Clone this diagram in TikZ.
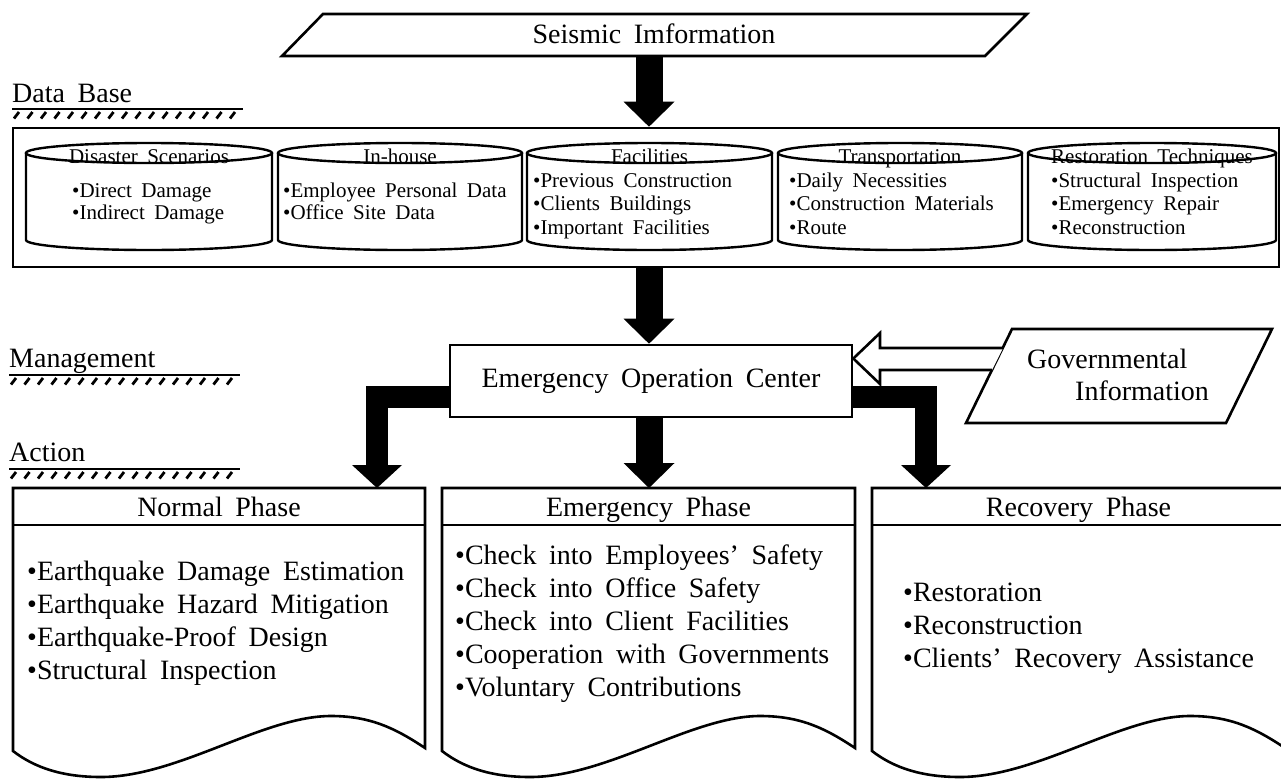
\documentclass[tikz,border=0pt]{standalone}
\usepackage{fontspec}
\setmainfont{Liberation Serif}[WordSpace=1.8]
\usetikzlibrary{arrows.meta,calc}

\tikzset{
  outline/.style={line width=2.6pt, line join=miter},
  bigtext/.style={font=\fontsize{28}{33}\selectfont},
  smalltext/.style={font=\fontsize{21}{24}\selectfont},
  itemtext/.style={anchor=base west, inner sep=0pt},
  fatarrow/.style={line width=27pt, -{Triangle[width=51pt,length=25pt,line width=0pt]}},
  elbowarrow/.style={line width=22pt, line join=miter, -{Triangle[width=50pt,length=23pt,line width=0pt]}},
  hatchstroke/.style={line width=2.8pt},
}

% ground line with hatching under a section label
\newcommand\groundline[2]{%
  \draw[line width=2.2pt] (#1,#2) -- ++(231,0);
  \foreach \k in {0,...,16}
    \draw[hatchstroke] ({#1+2+\k*13.5},{#2+9.5}) -- ++(5,-6.5);
}

\begin{document}
\begin{tikzpicture}[x=1pt,y=-1pt]
\useasboundingbox (0,0) rectangle (1281,779);
\fill[white] (0,0) rectangle (1281,779);

% ---------- seismic information input ----------
\draw[outline] (323,14) -- (1027,14) -- (985,56) -- (282,56) -- cycle;
\node[bigtext, anchor=base] (seis) at (654,43) {Seismic Imformation};
\coordinate (seisB) at (649,56);
\coordinate (axis) at (649,0);

% ---------- section labels ----------
\node[bigtext, anchor=base west, inner sep=0pt] (lblDB) at (12,102) {Data Base};
\groundline{12}{109}
\node[bigtext, anchor=base west, inner sep=0pt] (lblMG) at (9,367) {Management};
\groundline{9}{375}
\node[bigtext, anchor=base west, inner sep=0pt] (lblAC) at (9,461) {Action};
\groundline{9}{469}

% ---------- data base ----------
\node[outline, draw, minimum width=1266pt, minimum height=139pt, inner sep=0pt] (db) at (646,197.5) {};

\foreach \a/\b/\nm/\hd in {26/272/cA/Disaster Scenarios, 278/522/cB/In-house,
    527/772/cC/Facilities, 778/1022/cD/Transportation, 1028/1276/cE/Restoration Techniques} {
  \pgfmathsetmacro\rx{(\b-\a)/2}
  \pgfmathsetmacro\cx{(\b+\a)/2}
  \draw[line width=2.4pt] (\a,153) -- (\a,240)
     arc[start angle=180, end angle=360, x radius=\rx pt, y radius=10pt] -- (\b,153);
  \draw[line width=2.4pt] (\cx,153) ellipse [x radius=\rx pt, y radius=10pt];
  \node[smalltext, anchor=base, inner sep=0pt] (\nm) at (\cx,163) {\hd};
}

\foreach \t [count=\i from 0] in {{Direct Damage},{Indirect Damage}}
  \node[smalltext, itemtext] (cAi\i) at (72,{197+22*\i}) {•\t};
\foreach \t [count=\i from 0] in {{Employee Personal Data},{Office Site Data}}
  \node[smalltext, itemtext] (cBi\i) at (283,{197+22*\i}) {•\t};
\foreach \t [count=\i from 0] in {{Previous Construction},{Clients Buildings},{Important Facilities}}
  \node[smalltext, itemtext] (cCi\i) at (533,{187+23.5*\i}) {•\t};
\foreach \t [count=\i from 0] in {{Daily Necessities},{Construction Materials},{Route}}
  \node[smalltext, itemtext] (cDi\i) at (789,{187+23.5*\i}) {•\t};
\foreach \t [count=\i from 0] in {{Structural Inspection},{Emergency Repair},{Reconstruction}}
  \node[smalltext, itemtext] (cEi\i) at (1051,{187+23.5*\i}) {•\t};

% ---------- management ----------
\node[outline, draw, fill=white, minimum width=402pt, minimum height=72pt, bigtext] (eoc) at (651,381) {Emergency Operation Center};

\draw[outline] (1012,329) -- (1272,329) -- (1226,423) -- (966,423) -- cycle;
\node[bigtext, itemtext] (gov1) at (1027,368) {Governmental};
\node[bigtext, itemtext] (gov2) at (1075,400) {Information};

% hollow arrow from governmental information
\coordinate (gTop) at (1003,348);
\coordinate (gBot) at (992,370);
\coordinate (wtip) at ($(eoc.east)+(0,-22.5)$);
\draw[outline, fill=white] (gTop) -- (880,348) -- (880,333) -- (wtip)
   -- (880,384) -- (880,370) -- (gBot);

% ---------- action phases ----------
\foreach \L/\R/\nm/\hd in {13/425/normal/Normal Phase, 442/855/emerg/Emergency Phase, 872/1285/recov/Recovery Phase} {
  \draw[outline, fill=white] (\L,488) -- (\R,488) -- (\R,748)
     .. controls ({\R-30},728) and ({\R-55},716) .. ({\L+318},716)
     .. controls ({\L+250},716) and ({\L+165},777) .. ({\L+88},777)
     .. controls ({\L+50},777) and ({\L+22},768) .. (\L,751) -- cycle;
  \draw[outline] (\L,525) -- (\R,525);
  \node[bigtext, anchor=base, inner sep=0pt] (\nm) at ({(\L+\R)/2},516) {\hd};
}

\foreach \t [count=\i from 0] in {{Earthquake Damage Estimation},{Earthquake Hazard Mitigation},{Earthquake-Proof Design},{Structural Inspection}}
  \node[bigtext, itemtext] (ni\i) at (27,{580+33*\i}) {•\t};
\foreach \t [count=\i from 0] in {{Check into Employees' Safety},{Check into Office Safety},{Check into Client Facilities},{Cooperation with Governments},{Voluntary Contributions}}
  \node[bigtext, itemtext] (ei\i) at (455,{564+33*\i}) {•\t};
\foreach \t [count=\i from 0] in {{Restoration},{Reconstruction},{Clients' Recovery Assistance}}
  \node[bigtext, itemtext] (ri\i) at (903,{601+33*\i}) {•\t};

\coordinate (nTop) at (377,488);
\coordinate (eTop) at (649,488);
\coordinate (rTop) at (926,488);

% ---------- flow arrows ----------
\draw[fatarrow] (seisB) -- (seisB |- db.north);
\draw[fatarrow] (db.south -| axis) -- (eoc.north -| axis);
\draw[fatarrow] (eoc.south -| axis) -- (eTop);
\draw[elbowarrow] ($(eoc.west)+(0,16)$) -| (nTop);
\draw[elbowarrow] ($(eoc.east)+(0,16)$) -| (rTop);
\end{tikzpicture}
\end{document}
